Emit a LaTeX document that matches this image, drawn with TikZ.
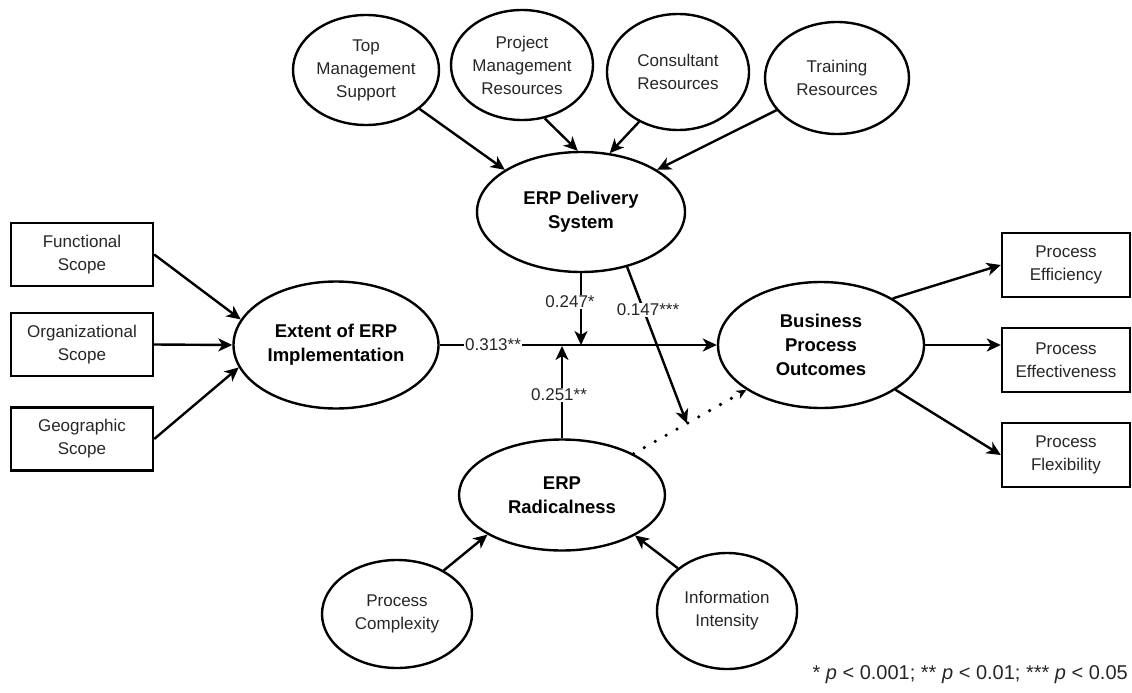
\documentclass[tikz,border=0pt]{standalone}
\usepackage{fontspec}
\setmainfont{Liberation Sans}
\usetikzlibrary{shapes.geometric,arrows.meta,calc}
\begin{document}
\begin{tikzpicture}[x=1pt,y=-1pt,
  ell/.style={ellipse,draw,line width=2.4pt,inner sep=0pt,align=center,font=\fontsize{17}{23}\selectfont,text=black!85},
  bell/.style={ellipse,draw,line width=2.4pt,inner sep=0pt,align=center,font=\fontsize{18.5}{24}\selectfont\bfseries},
  box/.style={draw,line width=2.4pt,inner sep=0pt,align=center,font=\fontsize{17}{23}\selectfont,text=black!85},
  arr/.style={line width=2.4pt,-{Stealth[length=14pt,width=13pt,inset=4pt]}},
  dotarr/.style={line width=3.6pt,line cap=round,dash pattern=on 0pt off 12.5pt,-{Stealth[length=10pt,width=9pt,inset=3pt]}},
  lab/.style={fill=white,inner sep=1pt,font=\fontsize{17}{20}\selectfont,text=black!85},
  note/.style={inner sep=0pt,font=\fontsize{20}{24}\selectfont,text=black!85},
]
\useasboundingbox (0,0) rectangle (1132,693);

% top antecedents
\node[ell,minimum width=146pt,minimum height=110pt] (tms) at (366,70) {Top\\Management\\Support};
\node[ell,minimum width=142pt,minimum height=110pt] (pmr) at (522,65) {Project\\Management\\Resources};
\node[ell,minimum width=142pt,minimum height=116pt] (cr) at (678,72) {Consultant\\Resources};
\node[ell,minimum width=144pt,minimum height=112pt] (tr) at (837,78) {Training\\Resources};

% constructs
\node[bell,minimum width=208pt,minimum height=120pt] (eds) at (581,212) {ERP Delivery\\System};
\node[bell,minimum width=205pt,minimum height=127pt] (ext) at (336,345) {Extent of ERP\\Implementation};
\node[bell,minimum width=206pt,minimum height=126pt] (bpo) at (821,345) {Business\\Process\\Outcomes};
\node[bell,minimum width=206pt,minimum height=111pt] (rad) at (562,495) {ERP\\Radicalness};

% bottom antecedents
\node[ell,minimum width=150pt,minimum height=108pt] (pc) at (397,614) {Process\\Complexity};
\node[ell,minimum width=140pt,minimum height=116pt] (ii) at (727,611) {Information\\Intensity};

% left boxes
\node[box,minimum width=142pt,minimum height=63pt] (fs) at (82,254.5) {Functional\\Scope};
\node[box,minimum width=142pt,minimum height=63pt] (os) at (82,344.5) {Organizational\\Scope};
\node[box,minimum width=142pt,minimum height=63pt] (gs) at (82,439) {Geographic\\Scope};

% right boxes
\node[box,minimum width=128pt,minimum height=64pt] (pe) at (1066,265) {Process\\Efficiency};
\node[box,minimum width=128pt,minimum height=64pt] (pef) at (1066,360) {Process\\Effectiveness};
\node[box,minimum width=128pt,minimum height=64pt] (pfl) at (1066,455) {Process\\Flexibility};

% arrows into delivery system
\draw[arr] (tms.-36) -- (eds.151.6);
\draw[arr] (pmr.-67) -- (eds.93);
\draw[arr] (cr.-128) -- (eds.64);
\draw[arr] (tr.-152) -- (eds.29);

% scope arrows
\draw[arr] (fs.east) -- (ext.165);
\draw[arr] (os.east) -- (ext.west);
\draw[arr] (gs.east) -- (ext.193);

% outcome arrows
\draw[arr] (bpo.33) -- (pe.west);
\draw[arr] (bpo.east) -- (pef.west |- bpo.east);
\draw[arr] (bpo.-31) -- (pfl.west);

% radicalness antecedents
\draw[arr] (pc.43) -- (rad.208);
\draw[arr] (ii.139) -- (rad.331);

% main path
\draw[arr] (ext.east) -- (bpo.west);
\node[lab] (l313) at (493,345) {0.313**};

% moderation
\coordinate (m1) at (581,345);
\coordinate (m2) at (562,346);
\draw[arr] (eds.south) -- (m1);
\node[lab] (l247) at (570,302) {0.247*};
\draw[arr] (rad.north) -- (m2);
\node[lab] (l251) at (559,395) {0.251**};

\draw[dotarr] (rad.30) -- (bpo.211);
\coordinate (m3) at ($(rad.30)!0.473!(bpo.211)$);
\draw[arr] (eds.-50) -- (m3);
\node[lab] (l147) at (648,310) {0.147***};

% footnote
\node[note,anchor=east] (fn) at (1128,675) {* \textit{p} < 0.001; ** \textit{p} < 0.01; *** \textit{p} < 0.05};
\end{tikzpicture}
\end{document}
